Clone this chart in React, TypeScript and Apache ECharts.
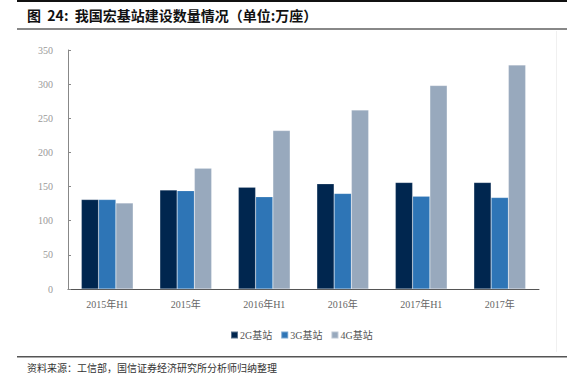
import React, { useEffect, useRef } from "react";
import * as echarts from "echarts";

const categories = ["2015年H1", "2015年", "2016年H1", "2016年", "2017年H1", "2017年"];
const series2G = [131, 145, 149, 154, 156, 156];
const series3G = [131, 144, 135, 140, 136, 134];
const series4G = [126, 177, 232, 262, 298, 328];
const seriesNames = ["2G基站", "3G基站", "4G基站"];
const yTicks = { min: 0, max: 350, interval: 50 };
const titleText = "图  24:  我国宏基站建设数量情况（单位:万座）";
const sourceText = "资料来源：工信部，国信证券经济研究所分析师归纳整理";

export default function App() {
  const ref = useRef<HTMLDivElement>(null);
  useEffect(() => {
    if (!ref.current) return;
    const chart = echarts.init(ref.current, null, { renderer: "svg" });
    const labelFont = "'Liberation Serif', 'Noto Sans CJK SC', serif";
    const colors = ["#00264F", "#2E75B6", "#98A9BD"];
    chart.setOption({
      animation: false,
      backgroundColor: "#ffffff",
      grid: { left: 68, right: 35, top: 50, bottom: 95 },
      legend: {
        data: seriesNames,
        left: 225,
        top: 325,
        itemWidth: 7,
        itemHeight: 7,
        itemGap: 8,
        icon: "rect",
        textStyle: { fontSize: 10, color: "#555", fontFamily: labelFont, padding: [0, 0, 0, -3] },
      },
      xAxis: {
        type: "category",
        data: categories,
        boundaryGap: true,
        axisLine: { lineStyle: { color: "#555", width: 1 } },
        axisTick: { inside: true, length: 3, alignWithLabel: false, lineStyle: { color: "#555" } },
        axisLabel: { fontSize: 10, color: "#666", margin: 10, fontFamily: labelFont },
      },
      yAxis: {
        type: "value",
        min: yTicks.min,
        max: yTicks.max,
        interval: yTicks.interval,
        splitLine: { show: false },
        axisLine: { show: true, lineStyle: { color: "#888", width: 1 } },
        axisTick: { show: true, inside: true, length: 3, lineStyle: { color: "#888" } },
        axisLabel: { fontSize: 10, color: "#999", margin: 15, fontFamily: labelFont },
      },
      series: [series2G, series3G, series4G].map((d, i) => ({
        name: seriesNames[i],
        type: "bar",
        data: d,
        barGap: "0%",
        barCategoryGap: "34%",
        itemStyle: { color: colors[i], borderColor: "rgba(255,255,255,0.35)", borderWidth: 0.5 },
      })),
      graphic: [
        { type: "rect", shape: { x: 17, y: 0, width: 550, height: 2 }, style: { fill: "#111" }, silent: true },
        {
          type: "text",
          x: 27,
          y: 15,
          style: {
            text: titleText,
            font: "bold 14px 'Noto Sans CJK SC', sans-serif",
            fill: "#111",
            textVerticalAlign: "middle",
          },
        },
        { type: "rect", shape: { x: 17, y: 28, width: 550, height: 2 }, style: { fill: "#888" }, silent: true },
        { type: "line", shape: { x1: 556.5, y1: 31, x2: 556.5, y2: 352 }, style: { stroke: "#f0f0f0", lineWidth: 1 }, silent: true },
        { type: "rect", shape: { x: 17, y: 356, width: 550, height: 1.5 }, style: { fill: "#555" }, silent: true },
        {
          type: "text",
          x: 27,
          y: 367,
          style: {
            text: sourceText,
            font: "10px 'Noto Sans CJK SC', serif",
            fill: "#333",
            textVerticalAlign: "middle",
          },
        },
      ],
    });
    return () => chart.dispose();
  }, []);
  return (
    <div style={{ position: "fixed", left: 0, top: 0, width: 574, height: 384, background: "#fff" }}>
      <div ref={ref} style={{ width: 574, height: 384 }} />
    </div>
  );
}
